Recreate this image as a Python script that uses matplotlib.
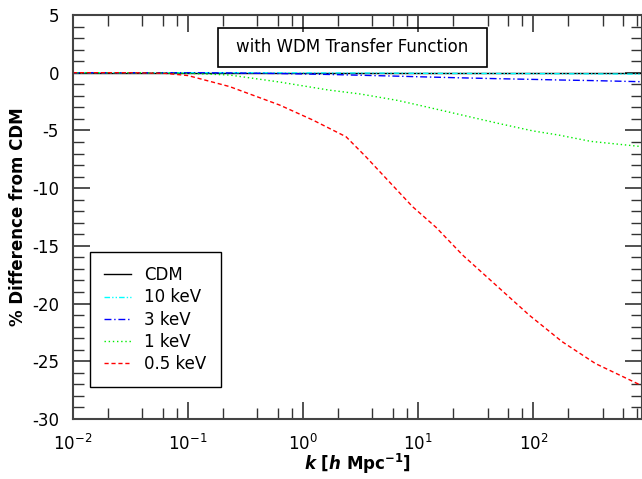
import numpy as np
import matplotlib
matplotlib.use("Agg")
import matplotlib.pyplot as plt
from matplotlib.patches import Rectangle
from matplotlib.ticker import LogLocator, MultipleLocator

plt.rcParams["font.family"] = "DejaVu Sans"
plt.rcParams["axes.unicode_minus"] = False
plt.rcParams["mathtext.fontset"] = "custom"
plt.rcParams["mathtext.it"] = "DejaVu Sans:italic:bold"
plt.rcParams["mathtext.bf"] = "DejaVu Sans:bold"

# ---- data ----
log_k = [-2.0, -1.5, -1.2, -1.0, -0.64, -0.21, 0.22, 0.5, 0.82, 1.0,
         1.35, 1.7, 2.0, 2.22, 2.5, 2.94]
cdm = [0.0] * len(log_k)
kev10 = [0, 0, 0, 0, 0, -0.01, -0.02, -0.03, -0.04, -0.05,
         -0.06, -0.07, -0.08, -0.09, -0.10, -0.12]
kev3 = [0, 0, 0, 0, -0.02, -0.07, -0.15, -0.22, -0.30, -0.35,
        -0.44, -0.52, -0.58, -0.63, -0.68, -0.78]
kev1 = [0, 0, -0.02, -0.05, -0.2, -0.8, -1.5, -1.85, -2.4, -2.8,
        -3.6, -4.4, -5.05, -5.4, -5.95, -6.4]

# the 0.5 keV curve was read on its own, finer grid
log_k_05 = [-2.0, -1.5, -1.2, -1.0, -0.64, -0.205, 0.084, 0.373, 0.547,
            0.72, 0.95, 1.155, 1.386, 1.675, 1.964, 2.25, 2.54, 2.94]
kev05 = [0, 0, -0.05, -0.25, -1.2, -2.8, -4.1, -5.55, -7.3,
         -9.15, -11.6, -13.4, -15.8, -18.4, -21.0, -23.3, -25.2, -27.1]

k = 10 ** np.array(log_k)
k05 = 10 ** np.array(log_k_05)

FS = 12

fig = plt.figure(figsize=(6.42, 4.79), dpi=100)
ax = fig.add_axes([0.1137, 0.1253, 0.8863, 0.8434])

ax.plot(k, cdm, color="black", lw=1.0, label="CDM")
ax.plot(k, kev10, color="cyan", lw=1.0, ls=(0, (4, 1.5, 1, 1.5, 1, 1.5)), label="10 keV")
ax.plot(k, kev3, color="blue", lw=1.0, ls=(0, (5, 2, 1, 2)), label="3 keV")
ax.plot(k, kev1, color="#00ee00", lw=1.0, ls=(0, (1, 2)), label="1 keV")
ax.plot(k05, kev05, color="red", lw=1.0, ls=(0, (3, 2)), label="0.5 keV")

ax.set_xscale("log")
ax.set_xlim(0.01, 880)
ax.set_ylim(-30, 5)
ax.xaxis.set_major_locator(LogLocator(base=10, numticks=10))
ax.xaxis.set_minor_locator(LogLocator(base=10, subs=[2, 4, 6, 8], numticks=10))
ax.yaxis.set_major_locator(MultipleLocator(5))
ax.yaxis.set_minor_locator(MultipleLocator(1))
ax.tick_params(which="both", direction="in", top=True, right=True,
               labelsize=FS, color="#333333")
ax.tick_params(which="major", length=12, width=1.2)
ax.tick_params(which="minor", length=8, width=1.0)
ax.tick_params(axis="x", which="major", pad=11)
ax.tick_params(axis="y", which="major", pad=10)
for s in ax.spines.values():
    s.set_color("#444444")
    s.set_linewidth(1.5)

ax.set_xlabel(r"$k$ [$h$ Mpc$^{\mathbf{-1}}$]", fontsize=FS, fontweight="bold",
              labelpad=-2)
ax.set_ylabel("% Difference from CDM", fontsize=FS, fontweight="bold",
              labelpad=4)

leg = ax.legend(loc="lower left", bbox_to_anchor=(0.03, 0.079), fontsize=FS,
                fancybox=False, framealpha=1, edgecolor="black",
                handlelength=1.6, handletextpad=0.8, borderpad=0.85,
                labelspacing=0.25, borderaxespad=0)
leg.get_frame().set_linewidth(1.0)

ax.add_patch(Rectangle((0.255, 0.871), 0.472, 0.097, transform=ax.transAxes,
                       fill=False, edgecolor="black", lw=1.2, zorder=5))
ax.text(0.491, 0.92, "with WDM Transfer Function", transform=ax.transAxes,
        ha="center", va="center", fontsize=FS, zorder=6)

fig.savefig("out.png", dpi=100)
